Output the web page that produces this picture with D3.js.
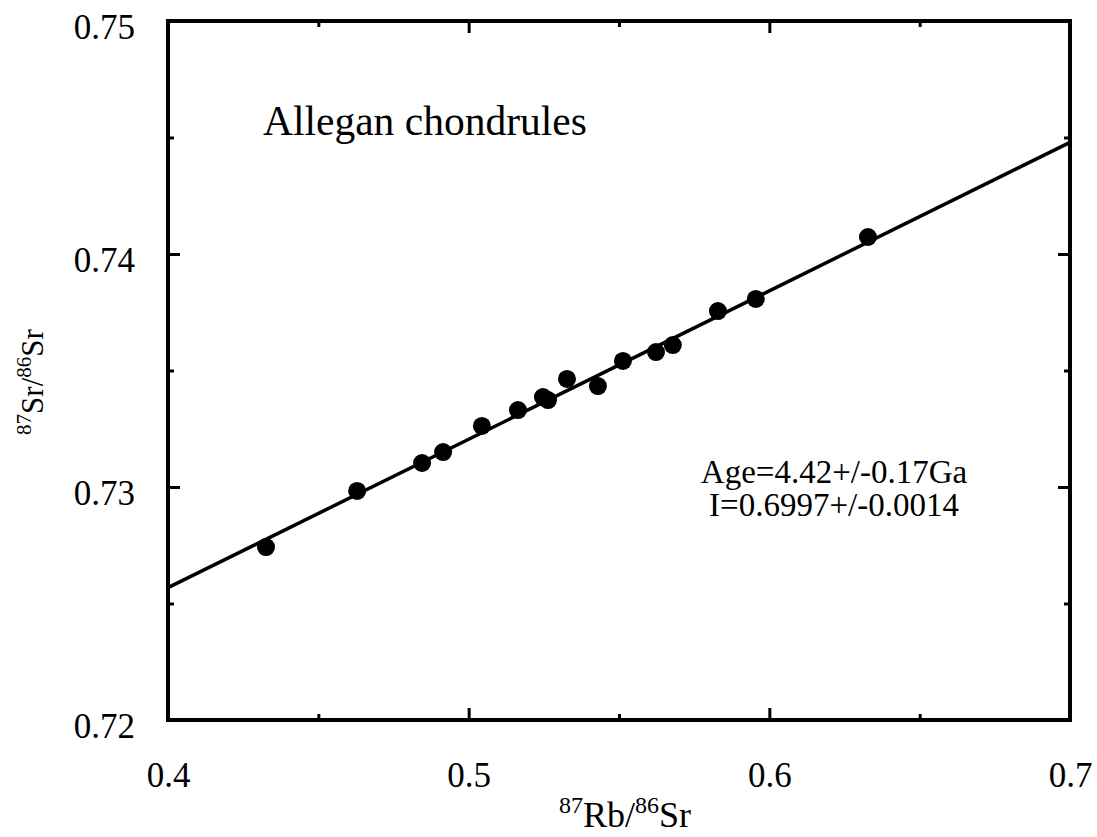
<!DOCTYPE html>
<html>
<head>
<meta charset="utf-8">
<script src="https://cdn.jsdelivr.net/npm/d3@7"></script>
<style>
  body { margin: 0; background: #fff; }
  text { font-family: "Liberation Serif", "Times New Roman", serif; fill: #000; }
</style>
</head>
<body>
<script>
// chondrule data
var rbsr = [0.4326, 0.4629, 0.4845, 0.4915, 0.5044, 0.5164, 0.5247, 0.5264,
            0.5327, 0.5430, 0.5513, 0.5623, 0.5679, 0.5829, 0.5955, 0.6328];
var srsr = [0.72742, 0.72983, 0.73103, 0.73150, 0.73262, 0.73330, 0.73386, 0.73373,
            0.73464, 0.73433, 0.73541, 0.73579, 0.73609, 0.73755, 0.73807, 0.74073];
var xTicks = [0.4, 0.5, 0.6, 0.7];
var xMinor = [0.45, 0.55, 0.65];
var yTicks = [0.72, 0.73, 0.74, 0.75];
var yMinor = [0.725, 0.735, 0.745];
var fitSlope = 0.0637;
var fitIntercept = 0.7002;

var w = 1097, h = 837;
var padL = 168, padR = 1070, padT = 21, padB = 720;

var svg = d3.select("body")
    .append("svg")
    .attr("width", w)
    .attr("height", h);

var x = d3.scaleLinear().domain([0.4, 0.7]).range([padL, padR]);
var y = d3.scaleLinear().domain([0.72, 0.75]).range([padB, padT]);

function styleAxis(g) {
    g.select(".domain").remove();
    g.selectAll(".tick line").attr("stroke", "#000").attr("stroke-width", 3);
    g.selectAll(".tick text").attr("font-size", 35).attr("font-family", "Liberation Serif");
}

var fmt = function(d) { return String(+d.toFixed(3)); };

// bottom axis with labels
svg.append("g")
    .attr("transform", "translate(0," + padB + ")")
    .call(d3.axisBottom(x).tickValues(xTicks).tickSize(-12).tickPadding(42).tickFormat(fmt))
    .call(styleAxis);
svg.append("g")
    .attr("transform", "translate(0," + padB + ")")
    .call(d3.axisBottom(x).tickValues(xMinor).tickSize(-6).tickFormat(""))
    .call(styleAxis);
// top mirror
svg.append("g")
    .attr("transform", "translate(0," + padT + ")")
    .call(d3.axisTop(x).tickValues(xTicks).tickSize(-12).tickFormat(""))
    .call(styleAxis);
svg.append("g")
    .attr("transform", "translate(0," + padT + ")")
    .call(d3.axisTop(x).tickValues(xMinor).tickSize(-6).tickFormat(""))
    .call(styleAxis);

// left axis with labels
var yl = svg.append("g")
    .attr("transform", "translate(" + padL + ",0)")
    .call(d3.axisLeft(y).tickValues(yTicks).tickSize(-12).tickPadding(33).tickFormat(fmt))
    .call(styleAxis);
yl.selectAll(".tick text").attr("dy", "0.5em");
svg.append("g")
    .attr("transform", "translate(" + padL + ",0)")
    .call(d3.axisLeft(y).tickValues(yMinor).tickSize(-6).tickFormat(""))
    .call(styleAxis);
// right mirror
svg.append("g")
    .attr("transform", "translate(" + padR + ",0)")
    .call(d3.axisRight(y).tickValues(yTicks).tickSize(-12).tickFormat(""))
    .call(styleAxis);
svg.append("g")
    .attr("transform", "translate(" + padR + ",0)")
    .call(d3.axisRight(y).tickValues(yMinor).tickSize(-6).tickFormat(""))
    .call(styleAxis);

// frame
svg.append("rect")
    .attr("x", padL)
    .attr("y", padT)
    .attr("width", padR - padL)
    .attr("height", padB - padT)
    .attr("fill", "none")
    .attr("stroke", "#000")
    .attr("stroke-width", 4);

// isochron fit line
var fitX = [0.4, 0.7];
svg.append("line")
    .attr("x1", x(fitX[0]))
    .attr("y1", y(fitIntercept + fitSlope * fitX[0]))
    .attr("x2", x(fitX[1]))
    .attr("y2", y(fitIntercept + fitSlope * fitX[1]))
    .attr("stroke", "#000")
    .attr("stroke-width", 3.5);

// points
svg.selectAll("circle")
    .data(rbsr)
    .enter()
    .append("circle")
    .attr("cx", function(d) { return x(d); })
    .attr("cy", function(d, i) { return y(srsr[i]); })
    .attr("r", 9)
    .attr("fill", "#000");

// annotations
svg.append("text")
    .attr("x", 263)
    .attr("y", 135)
    .attr("font-size", 41.5)
    .text("Allegan chondrules");

svg.append("text")
    .attr("x", 834)
    .attr("y", 483)
    .attr("font-size", 33)
    .attr("text-anchor", "middle")
    .text("Age=4.42+/-0.17Ga");
svg.append("text")
    .attr("x", 834)
    .attr("y", 516)
    .attr("font-size", 33)
    .attr("text-anchor", "middle")
    .text("I=0.6997+/-0.0014");

// axis titles
var xt = svg.append("text")
    .attr("x", 625)
    .attr("y", 827)
    .attr("font-size", 36)
    .attr("text-anchor", "middle");
xt.append("tspan").attr("font-size", 24).attr("dy", -14).text("87");
xt.append("tspan").attr("dy", 14).text("Rb/");
xt.append("tspan").attr("font-size", 24).attr("dy", -14).text("86");
xt.append("tspan").attr("dy", 14).text("Sr");

var yt = svg.append("text")
    .attr("transform", "translate(43,382) rotate(-90)")
    .attr("font-size", 31)
    .attr("text-anchor", "middle");
yt.append("tspan").attr("font-size", 21).attr("dy", -12).text("87");
yt.append("tspan").attr("dy", 12).text("Sr/");
yt.append("tspan").attr("font-size", 21).attr("dy", -12).text("86");
yt.append("tspan").attr("dy", 12).text("Sr");
</script>
</body>
</html>
